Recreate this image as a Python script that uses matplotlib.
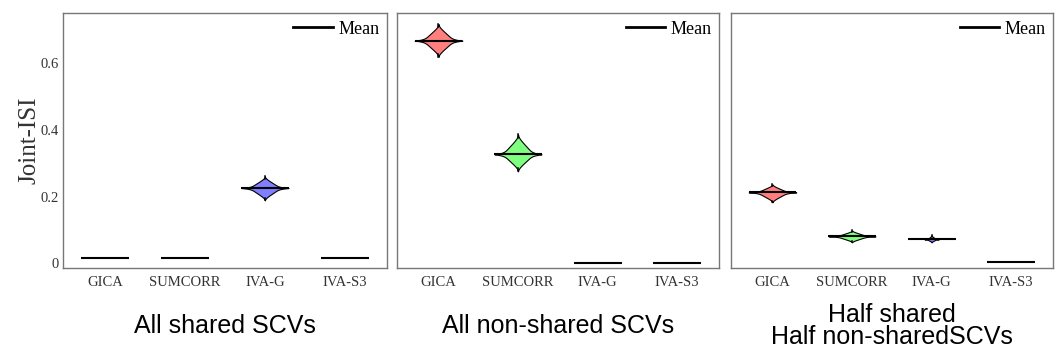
import numpy as np
import matplotlib
matplotlib.use("Agg")
from matplotlib import pyplot as plt
from matplotlib.lines import Line2D

methods = ["GICA", "SUMCORR", "IVA-G", "IVA-S3"]
panel_titles = ["All shared SCVs", "All non-shared SCVs", "Half shared\nHalf non-sharedSCVs"]

# joint-ISI per method: mean, min, max
means = [
    [0.015, 0.015, 0.226, 0.015],
    [0.668, 0.327, 0.002, 0.002],
    [0.213, 0.081, 0.072, 0.003],
]
lows = [
    [0.015, 0.015, 0.189, 0.015],
    [0.619, 0.276, 0.002, 0.002],
    [0.183, 0.063, 0.063, 0.003],
]
highs = [
    [0.015, 0.015, 0.261, 0.015],
    [0.718, 0.387, 0.002, 0.002],
    [0.237, 0.099, 0.084, 0.003],
]
# relative width of the violin body
body = [
    [1.0, 1.0, 1.0, 1.0],
    [1.0, 1.0, 1.0, 1.0],
    [1.0, 1.0, 0.3, 1.0],
]

colors = ["#ff7f7f", "#7fff7f", "#7f7fff", "#7f7fff"]
serif = ["Liberation Serif", "DejaVu Serif"]
sans = ["Liberation Sans", "DejaVu Sans"]

W, H = 1057, 356
fig = plt.figure(figsize=(W / 100, H / 100), dpi=100)
boxes = [(63.3, 386.7), (396.7, 719), (730.7, 1053)]
top, bottom = 13.3, 267.7
hw = 0.3

for p, (x0, x1) in enumerate(boxes):
    ax = fig.add_axes([x0 / W, 1 - bottom / H, (x1 - x0) / W, (bottom - top) / H])
    ax.set_xlim(0.475, 4.525)
    ax.set_ylim(-0.013, 0.75)
    for i in range(len(methods)):
        pos = i + 1
        m, lo, hi = means[p][i], lows[p][i], highs[p][i]
        if hi > lo:
            ys = np.linspace(lo, hi, 300)
            t = np.where(ys < m, (m - ys) / max(m - lo, 1e-9), (ys - m) / max(hi - m, 1e-9))
            t = np.clip(t, 0, 1)
            w = hw * body[p][i] * (0.45 * np.exp(-14 * t) + 0.55 * (1 - t ** 1.6) ** 1.8)
            ax.fill_betweenx(ys, pos - w, pos + w, facecolor=colors[i],
                             edgecolor="black", linewidth=0.8, zorder=2)
            # thin stems at the tips
            d = 0.1 * (hi - lo)
            ax.plot([pos, pos], [lo, lo + d], color="black", lw=1.1, zorder=2)
            ax.plot([pos, pos], [hi - d, hi], color="black", lw=1.1, zorder=2)
        ax.plot([pos - hw, pos + hw], [m, m], color="black", lw=1.5, zorder=3,
                solid_capstyle="butt")
    ax.set_xticks(range(1, len(methods) + 1))
    ax.set_xticklabels(methods, family=serif, fontsize=10.5, color="#333333")
    ax.set_yticks([0, 0.2, 0.4, 0.6])
    if p == 0:
        ax.set_yticklabels(["0", "0.2", "0.4", "0.6"], family=serif, fontsize=10.5, color="#333333")
        ax.set_ylabel("Joint-ISI", family=serif, fontsize=18, color="#333333", labelpad=0)
    else:
        ax.set_yticklabels([])
    ax.tick_params(axis="x", length=0, pad=6)
    ax.tick_params(axis="y", length=0, pad=3)
    for s in ax.spines.values():
        s.set_color("#777777")
        s.set_linewidth(1.0)
    ax.legend([Line2D([0], [0], color="black", lw=2)], ["Mean"], loc="upper right",
              frameon=False, prop={"family": serif, "size": 13}, handlelength=2.2,
              handletextpad=0.3, borderaxespad=0.0)
    xc = (x0 + x1) / 2 / W
    fig.text(xc, 1 - 326 / H, panel_titles[p], ha="center", va="center",
             family=sans, fontsize=18, linespacing=0.92)

fig.savefig("out.png", dpi=100)
